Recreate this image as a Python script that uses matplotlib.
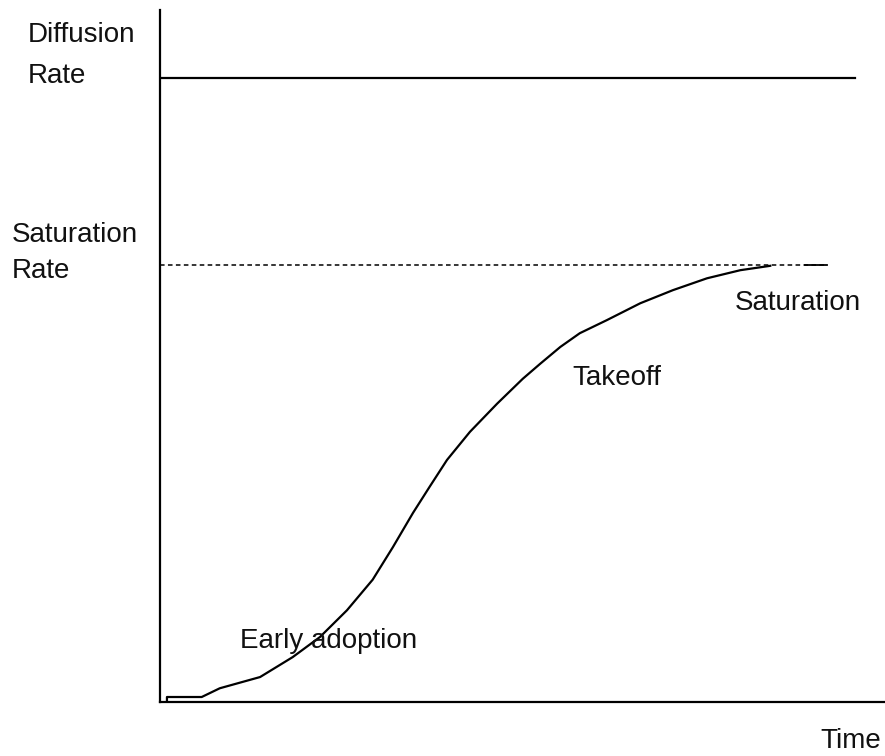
import matplotlib.pyplot as plt

plt.rcParams['font.family'] = ['Liberation Sans', 'DejaVu Sans']

# diffusion curve (time, adoption rate)
time = [1.0, 1.0, 6.0, 8.6, 14.4, 19.1, 23.0, 26.9, 30.6, 33.5, 36.4, 38.8,
        41.3, 44.6, 48.5, 52.2, 54.7, 57.6, 60.4, 64.3, 69.1, 73.8, 78.7,
        83.5, 87.8]
rate = [0.0, 0.8, 0.8, 2.2, 4.0, 7.2, 10.4, 14.7, 19.6, 24.8, 30.3, 34.5,
        38.8, 43.3, 47.8, 51.8, 54.2, 56.9, 59.1, 61.2, 63.9, 66.0, 67.9,
        69.2, 69.9]

diffusion_rate = 100
saturation_rate = 70
time_end = 100
saturation_dash_end = 96.0
saturation_solid_start = 92.8

fig = plt.figure(figsize=(8.85, 7.56), dpi=100)
ax = fig.add_axes([160 / 885, 54 / 756, 725 / 885, 692 / 756])
ax.set_xlim(0, 725 / 6.95)
ax.set_ylim(0, 692 / 6.24)

for side in ['top', 'right']:
    ax.spines[side].set_visible(False)
for side in ['left', 'bottom']:
    ax.spines[side].set_linewidth(1.6)
ax.set_xticks([])
ax.set_yticks([])

ax.plot([0, time_end], [diffusion_rate, diffusion_rate], color='black', lw=1.6)
ax.plot([0, saturation_dash_end], [saturation_rate, saturation_rate],
        color='black', lw=1.1, dashes=(3, 2.2))
ax.plot([saturation_solid_start, saturation_dash_end],
        [saturation_rate, saturation_rate], color='black', lw=1.3)
ax.plot(time, rate, color='black', lw=1.6)

kw = dict(fontsize=20, color='#111111', va='baseline', ha='left', clip_on=False)
ax.text(-19.1, 105.8, 'Diffusion', **kw)
ax.text(-19.1, 99.2, 'Rate', **kw)
ax.text(-21.3, 73.7, 'Saturation', **kw)
ax.text(-21.3, 67.9, 'Rate', **kw)
ax.text(82.7, 62.8, 'Saturation', **kw)
ax.text(59.4, 50.8, 'Takeoff', **kw)
ax.text(11.5, 8.65, 'Early adoption', **kw)
ax.text(95.0, -7.4, 'Time', **kw)

fig.savefig('out.png', dpi=100)
